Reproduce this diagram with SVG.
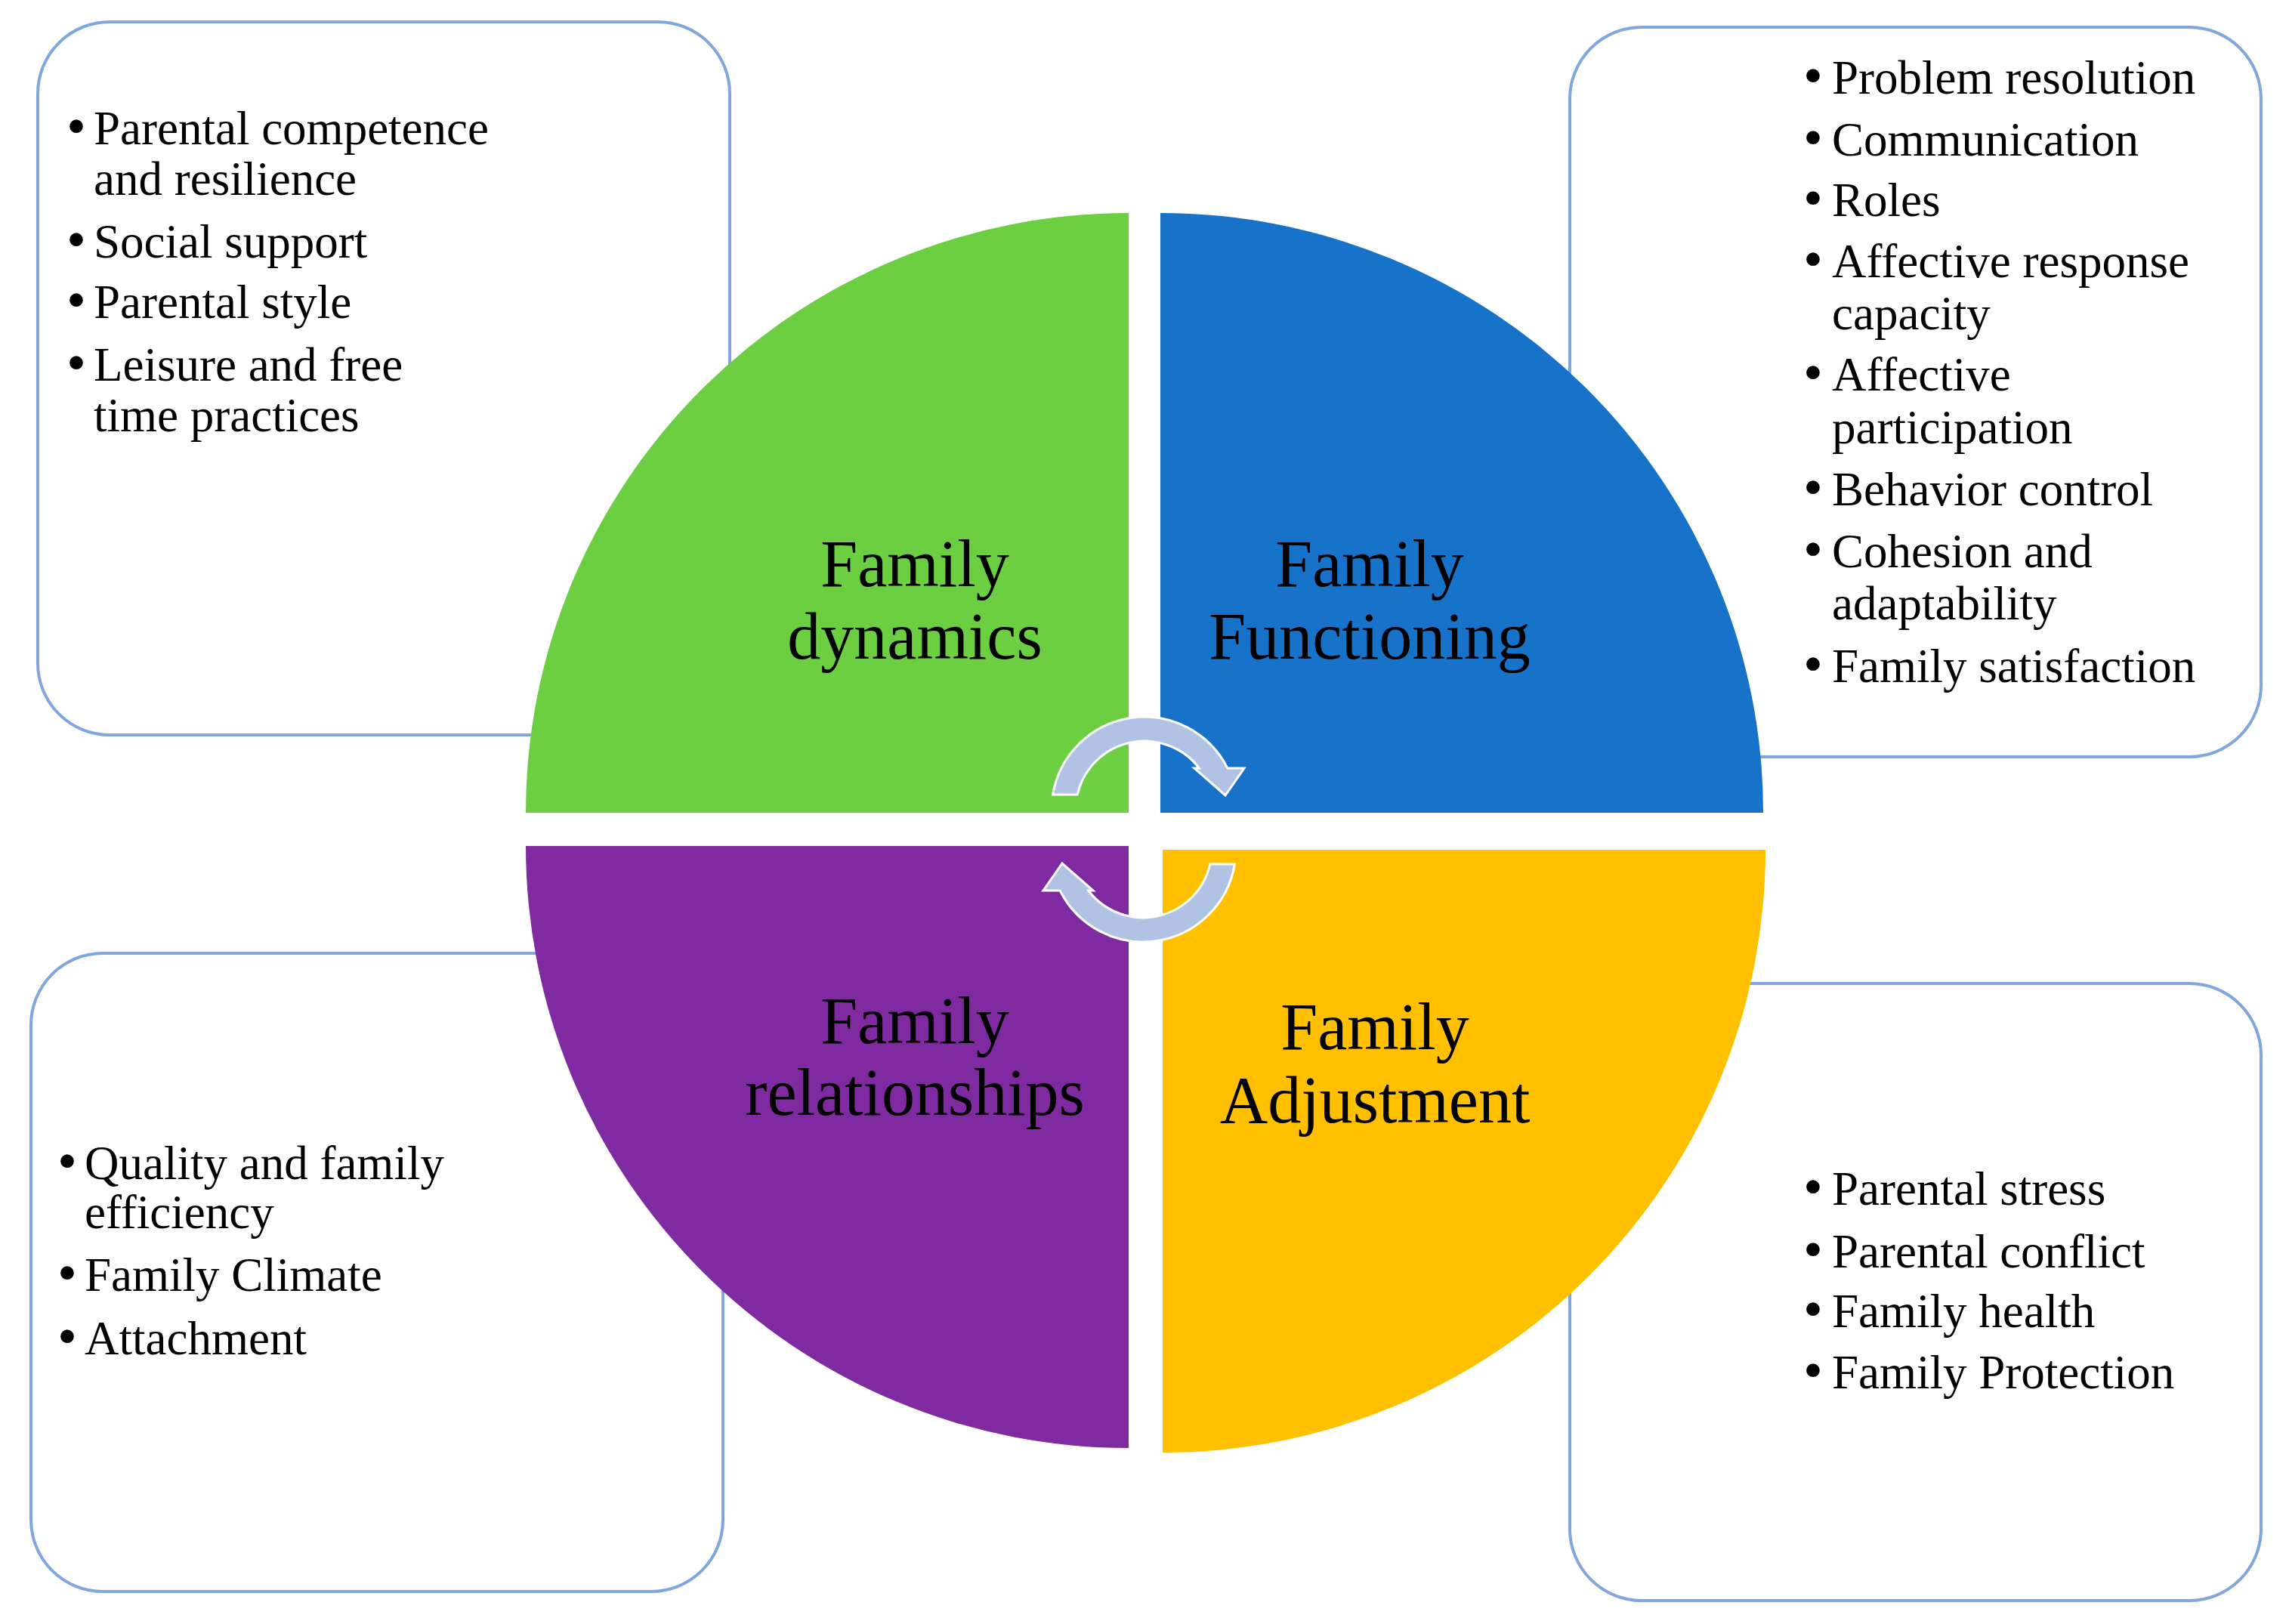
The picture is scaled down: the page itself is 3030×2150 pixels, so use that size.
<svg xmlns="http://www.w3.org/2000/svg" width="3030" height="2150" viewBox="0 0 3030 2150">
<style>
.box{fill:#fff;stroke:#7FA6DD;stroke-width:4}
.item{font-family:"Liberation Serif",serif;font-size:63px;fill:#000}
.bul{font-family:"Liberation Serif",serif;font-size:74px;fill:#000;text-anchor:middle}
.lbl{font-family:"Liberation Serif",serif;font-size:88px;fill:#000;text-anchor:middle}
.arr{fill:#B1C3E4;stroke:#fff;stroke-width:3;stroke-linejoin:miter}
</style>
<defs>
<path id="cyc" d="M1393.6,1052 A123,123 0 0 1 1624.9,1017 L1647,1017 L1622,1053 L1581,1017 L1587.3,1017 A91,91 0 0 0 1426.2,1052 Z"/>
</defs>
<rect width="3030" height="2150" fill="#fff"/>
<g id="box-dynamics">
<rect class="box" x="50" y="29" width="916" height="944" rx="95" ry="95"/>
<text class="bul" x="101" y="192">•</text><text class="item" x="124" y="191">Parental competence</text>
<text class="item" x="124" y="258">and resilience</text>
<text class="bul" x="101" y="342">•</text><text class="item" x="124" y="341">Social support</text>
<text class="bul" x="101" y="422">•</text><text class="item" x="124" y="421">Parental style</text>
<text class="bul" x="101" y="505">•</text><text class="item" x="124" y="504">Leisure and free</text>
<text class="item" x="124" y="571">time practices</text>
</g>
<g id="box-functioning">
<rect class="box" x="2078" y="36" width="915" height="966" rx="95" ry="95"/>
<text class="bul" x="2400" y="125">•</text><text class="item" x="2425" y="124">Problem resolution</text>
<text class="bul" x="2400" y="207">•</text><text class="item" x="2425" y="206">Communication</text>
<text class="bul" x="2400" y="287">•</text><text class="item" x="2425" y="286">Roles</text>
<text class="bul" x="2400" y="368">•</text><text class="item" x="2425" y="367">Affective response</text>
<text class="item" x="2425" y="436">capacity</text>
<text class="bul" x="2400" y="518">•</text><text class="item" x="2425" y="517">Affective</text>
<text class="item" x="2425" y="587">participation</text>
<text class="bul" x="2400" y="670">•</text><text class="item" x="2425" y="669">Behavior control</text>
<text class="bul" x="2400" y="752">•</text><text class="item" x="2425" y="751">Cohesion and</text>
<text class="item" x="2425" y="820">adaptability</text>
<text class="bul" x="2400" y="904">•</text><text class="item" x="2425" y="903">Family satisfaction</text>
</g>
<g id="box-relationships">
<rect class="box" x="41" y="1262" width="916" height="845" rx="95" ry="95"/>
<text class="bul" x="89" y="1562">•</text><text class="item" x="112" y="1561">Quality and family</text>
<text class="item" x="112" y="1626">efficiency</text>
<text class="bul" x="89" y="1710">•</text><text class="item" x="112" y="1709">Family Climate</text>
<text class="bul" x="89" y="1794">•</text><text class="item" x="112" y="1793">Attachment</text>
</g>
<g id="box-adjustment">
<rect class="box" x="2078" y="1302" width="915" height="817" rx="95" ry="95"/>
<text class="bul" x="2400" y="1596">•</text><text class="item" x="2425" y="1595">Parental stress</text>
<text class="bul" x="2400" y="1679">•</text><text class="item" x="2425" y="1678">Parental conflict</text>
<text class="bul" x="2400" y="1758">•</text><text class="item" x="2425" y="1757">Family health</text>
<text class="bul" x="2400" y="1839">•</text><text class="item" x="2425" y="1838">Family Protection</text>
</g>
<g id="q-dynamics">
<path d="M1494,1076 L696,1076 A798,794 0 0 1 1494,282 Z" fill="#6BCF41"/>
<text class="lbl" x="1211" y="776">Family</text>
<text class="lbl" x="1211" y="872">dynamics</text>
</g>
<g id="q-functioning">
<path d="M1536,1076 L1536,282 A798,794 0 0 1 2334,1076 Z" fill="#1772C9"/>
<text class="lbl" x="1813" y="776">Family</text>
<text class="lbl" x="1813" y="872">Functioning</text>
</g>
<g id="q-relationships">
<path d="M1494,1120 L1494,1917 A798,797 0 0 1 696,1120 Z" fill="#7F2AA0"/>
<text class="lbl" x="1211" y="1381">Family</text>
<text class="lbl" x="1211" y="1476">relationships</text>
</g>
<g id="q-adjustment">
<path d="M1539,1125 L2337,1125 A798,798 0 0 1 1539,1923 Z" fill="#FFC000"/>
<text class="lbl" x="1820" y="1389">Family</text>
<text class="lbl" x="1820" y="1486">Adjustment</text>
</g>
<g id="connectors">
<use href="#cyc" class="arr"/>
<use href="#cyc" class="arr" transform="rotate(180 1514 1098)"/>
</g>
</svg>
